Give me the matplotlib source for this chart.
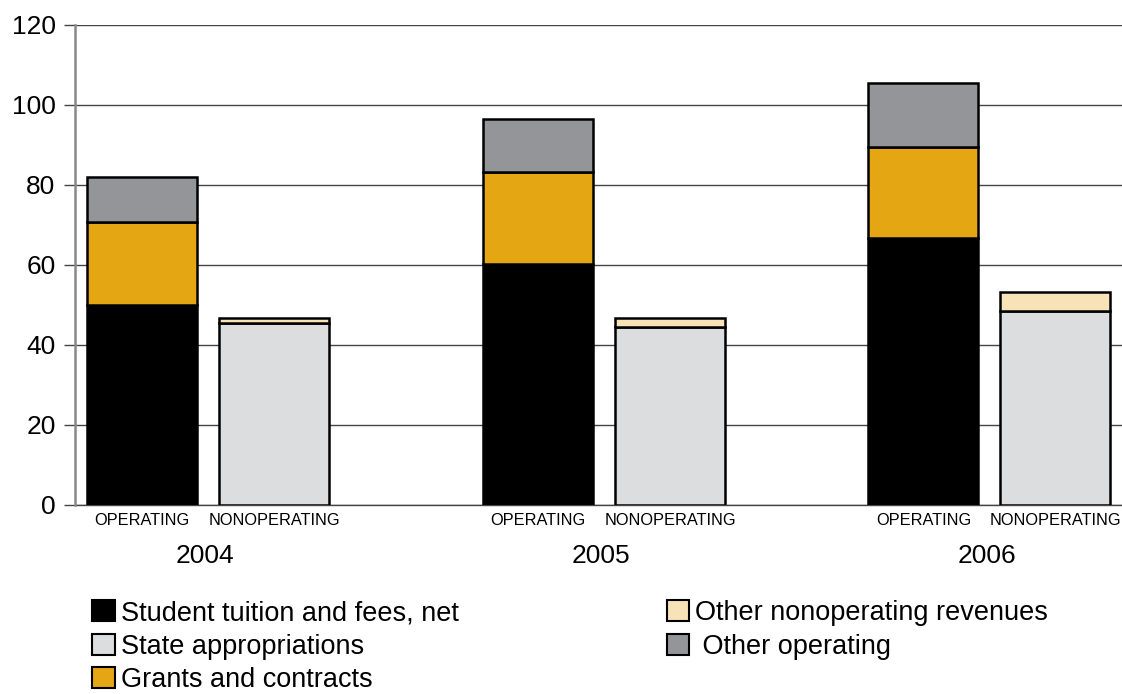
import matplotlib
matplotlib.use("Agg")
import matplotlib.pyplot as plt
from matplotlib.patches import Patch
from matplotlib.transforms import blended_transform_factory

plt.rcParams['font.family'] = ['Liberation Sans', 'DejaVu Sans']

years = ["2004", "2005", "2006"]
kinds = ["OPERATING", "NONOPERATING"]
tuition = [50.1, 60.2, 66.8]
grants = [20.6, 23.0, 22.6]
other_op = [11.4, 13.3, 16.1]
state = [45.4, 44.6, 48.6]
other_nonop = [1.35, 2.1, 4.6]
yticks = [0, 20, 40, 60, 80, 100, 120]

series_names = ["Student tuition and fees, net", "State appropriations",
                "Grants and contracts", "Other nonoperating revenues", " Other operating"]
c_tuition = "#000000"
c_state = "#dcdddf"
c_grants = "#e5a614"
c_nonop = "#f8e3b8"
c_otherop = "#939598"

group_pos = [0.0, 3.0, 5.92]
width = 0.833

fig = plt.figure(figsize=(11.22, 6.94), dpi=100)
ax = fig.add_axes([75/1122, 1-505/694, 1-75/1122, 480/694])

op_x = [g for g in group_pos]
nop_x = [g + 1 for g in group_pos]
kw = dict(width=width, edgecolor="black", linewidth=1.8, zorder=3)

ax.bar(op_x, tuition, color=c_tuition, **kw)
ax.bar(op_x, grants, bottom=tuition, color=c_grants, **kw)
b_oth = [t + g for t, g in zip(tuition, grants)]
ax.bar(op_x, other_op, bottom=b_oth, color=c_otherop, **kw)
ax.bar(nop_x, state, color=c_state, **kw)
ax.bar(nop_x, other_nonop, bottom=state, color=c_nonop, **kw)

ax.set_ylim(0, 120)
ax.set_xlim(-0.508, 7.424)
ax.set_yticks(yticks)
ax.set_yticklabels([str(v) for v in yticks], fontsize=19)
ax.yaxis.grid(True, color="#444444", linewidth=1.0, zorder=0)
ax.axhline(0, color="#444444", linewidth=1.0, zorder=1, clip_on=False)
ax.set_axisbelow(True)
ax.tick_params(axis='y', length=8, width=1.0, color="#444444", pad=6)
for s in ["top", "right", "bottom"]:
    ax.spines[s].set_visible(False)
ax.spines["left"].set_color("#888888")
ax.spines["left"].set_linewidth(1.8)

xt = []
xl = []
for g in group_pos:
    xt += [g, g + 1]
    xl += kinds
ax.set_xticks(xt)
ax.set_xticklabels(xl, fontsize=11.8)
ax.tick_params(axis='x', length=0, pad=6)

tr = blended_transform_factory(ax.transData, ax.transAxes)
for g, y in zip(group_pos, years):
    ax.text(g + 0.48, -0.082, y, transform=tr, ha="center", va="top", fontsize=19)

handles = [Patch(facecolor=c, edgecolor="black", linewidth=1.5) for c in
           [c_tuition, c_state, c_grants, c_nonop, c_otherop]]
fig.legend(handles, series_names, loc="upper left", bbox_to_anchor=(0.0727, 0.151),
           ncol=2, frameon=False, fontsize=19.5, handlelength=0.82, handleheight=0.82,
           handletextpad=0.22, columnspacing=7.7, labelspacing=0.28, borderaxespad=0)

fig.savefig("out.png", dpi=100)
